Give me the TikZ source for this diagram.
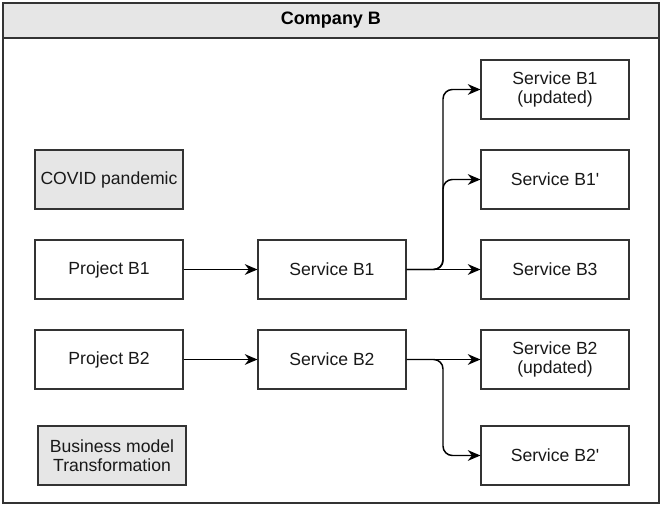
\documentclass[tikz,border=0pt]{standalone}
\usepackage{fontspec}
\setmainfont{Liberation Sans}
\usetikzlibrary{arrows.meta}
\definecolor{boxgray}{HTML}{E6E6E6}
\definecolor{linegray}{HTML}{333333}
\newcommand{\sq}{\XeTeXglyph\numexpr\XeTeXcharglyph"27\relax}
\begin{document}
\begin{tikzpicture}[x=0.75pt,y=-0.75pt,
  box/.style={draw=linegray,line width=0.8pt,minimum width=111pt,minimum height=44.25pt,inner sep=0pt,align=center,font=\fontsize{13.2}{14.5}\selectfont,text=black!90},
  graybox/.style={box,fill=boxgray},
  conn/.style={draw=black,line width=1.1pt,-{Stealth[length=9.5pt,width=8pt]},rounded corners=7pt}]
\useasboundingbox (0,0) rectangle (660,505);
\fill[boxgray] (3,3) rectangle (659,38);
\draw[linegray,line width=1.1pt] (3,3) rectangle (659,503);
\draw[linegray,line width=1.1pt] (3,38) -- (659,38);
\node[font=\bfseries\fontsize{13.5}{15}\selectfont] (title) at (331,20) {Company B};
\node[graybox] (covid) at (109,179.5) {COVID pandemic};
\node[box] (pb1) at (109,269.5) {Project B1};
\node[box] (sb1) at (332,269.5) {Service B1};
\node[box] (sb1u) at (555,89.5) {Service B1\\(updated)};
\node[box] (sb1p) at (555,179.5) {Service B1\sq};
\node[box] (sb3) at (555,269.5) {Service B3};
\node[box] (pb2) at (109,359.5) {Project B2};
\node[box] (sb2) at (332,359.5) {Service B2};
\node[box] (sb2u) at (555,359.5) {Service B2\\(updated)};
\node[box] (sb2p) at (555,455.5) {Service B2\sq};
\node[graybox] (bmt) at (112,455.5) {Business model\\Transformation};
\draw[conn] (pb1) -- (sb1);
\draw[conn] (sb1) -- (sb3);
\draw[conn] (sb1.east) -- (443,269.5) -- (443,89.5) -- (sb1u.west);
\draw[conn] (sb1.east) -- (443,269.5) -- (443,179.5) -- (sb1p.west);
\draw[conn] (pb2) -- (sb2);
\draw[conn] (sb2) -- (sb2u);
\draw[conn] (sb2.east) -- (443,359.5) -- (443,455.5) -- (sb2p.west);
\end{tikzpicture}
\end{document}
